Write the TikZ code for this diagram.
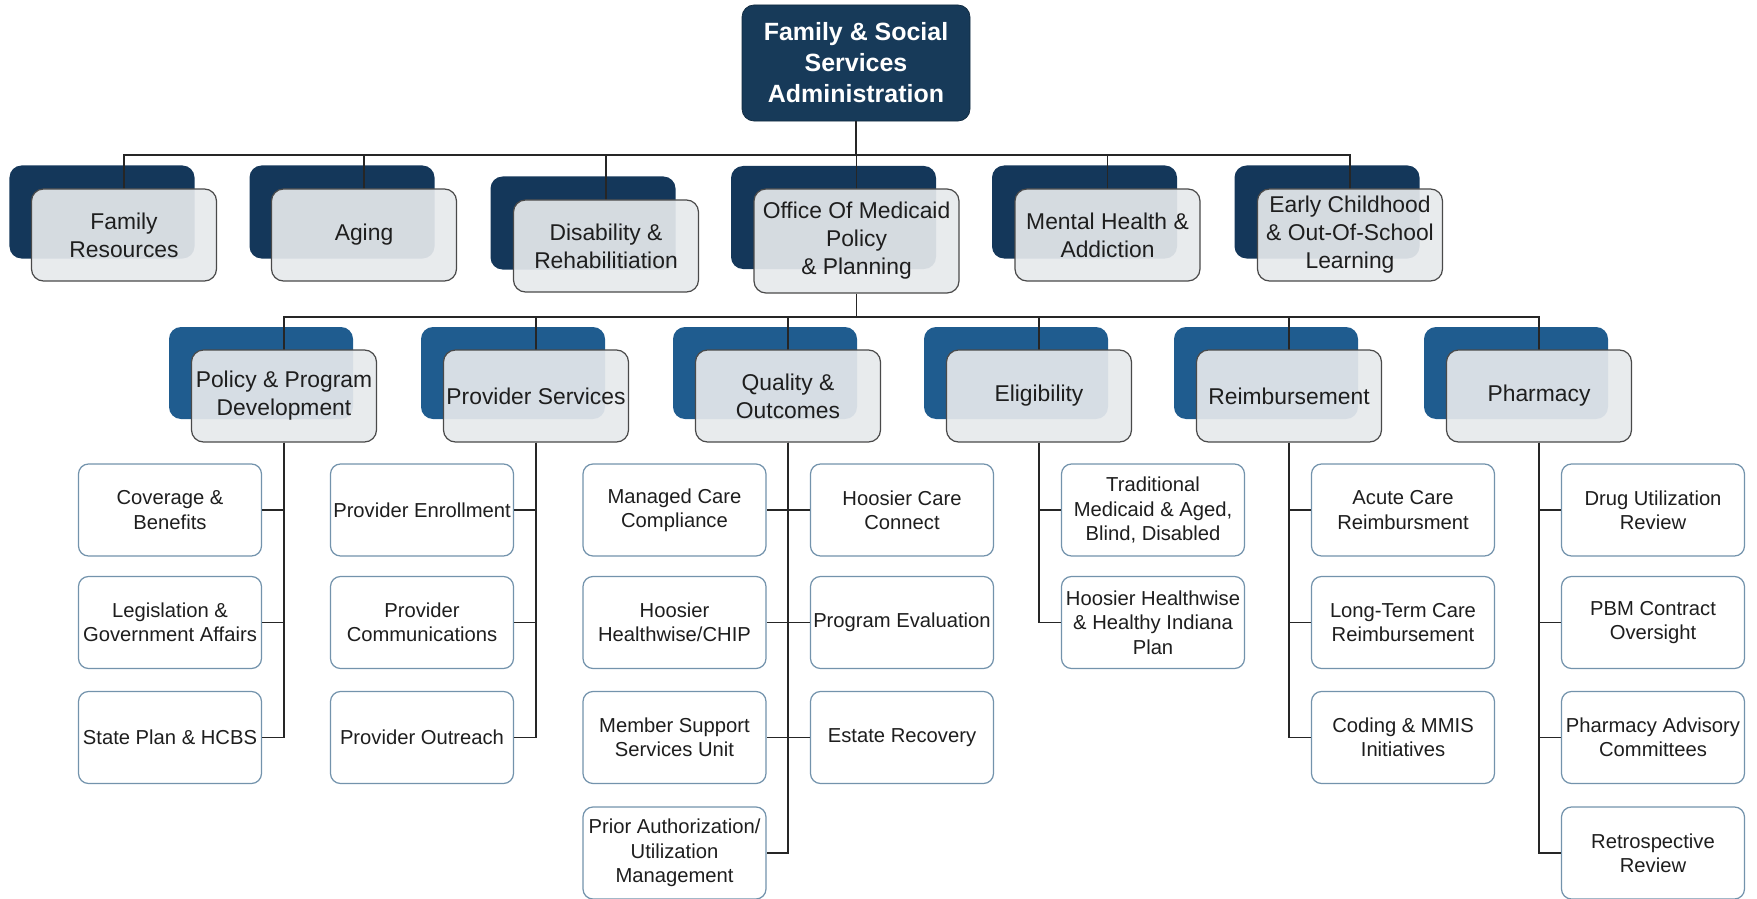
\documentclass[tikz,border=0pt]{standalone}
\usepackage{fontspec}
\setmainfont{Liberation Sans}
\usepackage{tikz,color}
\definecolor{headnavy}{HTML}{173A59}
\definecolor{navyback}{HTML}{14375A}
\definecolor{blueback}{HTML}{1F5C8F}
\definecolor{frontgrey}{HTML}{E6E9EC}
\definecolor{frontline}{HTML}{4A4A4A}
\definecolor{unitline}{HTML}{7393AC}
\definecolor{labelgrey}{HTML}{1E1E1E}

\begin{document}
\begin{tikzpicture}[x=0.2mm,y=-0.2mm,
  head/.style={draw=headnavy!70!black, fill=headnavy, rounded corners=2.4mm, text=white,
    align=center, inner sep=1pt, minimum width=45.6mm, minimum height=23.2mm,
    font=\fontsize{14.2}{17.6}\selectfont\bfseries},
  darkback/.style={fill=navyback, rounded corners=2.4mm, minimum width=37mm, minimum height=18.6mm},
  lightback/.style={fill=blueback, rounded corners=2.4mm, minimum width=36.8mm, minimum height=18.4mm},
  front/.style={draw=frontline, line width=0.7pt, fill=frontgrey, fill opacity=0.92, text opacity=1,
    text=labelgrey, rounded corners=2.4mm, align=center, inner sep=1pt,
    minimum width=37mm, minimum height=18.4mm, font=\fontsize{13}{15.9}\selectfont},
  unit/.style={draw=unitline, line width=0.7pt, fill=white, text=labelgrey, rounded corners=2mm,
    align=center, inner sep=1pt, minimum width=36.6mm, minimum height=18.4mm,
    font=\fontsize{11.5}{13.9}\selectfont},
  link/.style={draw=black!85, line width=0.8pt}]
\useasboundingbox (0,0) rectangle (1757,899);

\node[head] (fssa) at (856,63) {Family \& Social\\Services\\Administration};

% divisions
\node[darkback] (famb) at (102,212) {};
\node[darkback] (agingb) at (342,212) {};
\node[darkback] (disb) at (583,223) {};
\node[darkback, minimum width=41mm, minimum height=20.6mm] (ompb) at (833.5,217.5) {};
\node[darkback] (mhb) at (1084.5,212) {};
\node[darkback] (ecb) at (1327,212) {};

\coordinate (bus1) at (856,155);
\draw[link] (fssa.south) -- (bus1);
\foreach \n/\x/\y in {fam/124/189, aging/364/189, dis/606/200, omp/856.5/189, mh/1107.5/189, ec/1350/189}
  \draw[link] (bus1) -| (\x,\y);

\node[front] (fam) at (124,235) {Family\\Resources};
\node[front] (aging) at (364,235) {Aging};
\node[front] (dis) at (606,246) {Disability \&\\Rehabilitiation};
\node[front, minimum width=41mm, minimum height=20.8mm] (omp) at (856.5,241) {Office Of Medicaid\\Policy\\\& Planning};
\node[front] (mh) at (1107.5,235) {Mental Health \&\\Addiction};
\node[front] (ec) at (1350,235) {Early Childhood\\\& Out-Of-School\\Learning};

% offices under medicaid
\node[lightback] (ppdb) at (261,373) {};
\node[lightback] (provb) at (513,373) {};
\node[lightback] (qualb) at (765,373) {};
\node[lightback] (eligb) at (1016,373) {};
\node[lightback] (reimbb) at (1266,373) {};
\node[lightback] (pharmb) at (1516,373) {};

\coordinate (bus2) at (856.5,317);
\draw[link] (omp.south) -- (bus2);
\foreach \x in {284,536,788,1039,1289,1539}
  \draw[link] (bus2) -| (\x,350);

\node[front] (ppd) at (284,396) {Policy \& Program\\Development};
\node[front] (prov) at (536,396) {Provider Services};
\node[front] (qual) at (788,396) {Quality \&\\Outcomes};
\node[front] (elig) at (1039,396) {Eligibility};
\node[front] (reimb) at (1289,396) {Reimbursement};
\node[front] (pharm) at (1539,396) {Pharmacy};

% units
\node[unit] (cov) at (170,510) {Coverage \&\\Benefits};
\node[unit] (leg) at (170,622.5) {Legislation \&\\Government Affairs};
\node[unit] (spa) at (170,737.5) {State Plan \& HCBS};

\node[unit] (penr) at (422,510) {Provider Enrollment};
\node[unit] (pcom) at (422,622.5) {Provider\\Communications};
\node[unit] (pout) at (422,737.5) {Provider Outreach};

\node[unit] (mcc) at (674.5,510) {Managed Care\\Compliance};
\node[unit] (hhc) at (674.5,622.5) {Hoosier\\Healthwise/CHIP};
\node[unit] (mss) at (674.5,737.5) {Member Support\\Services Unit};
\node[unit] (pau) at (674.5,853) {Prior Authorization/\\Utilization\\Management};
\node[unit] (hcc) at (902,510) {Hoosier Care\\Connect};
\node[unit] (peval) at (902,622.5) {Program Evaluation};
\node[unit] (est) at (902,737.5) {Estate Recovery};

\node[unit] (trad) at (1153,510) {Traditional\\Medicaid \& Aged,\\Blind, Disabled};
\node[unit] (hhip) at (1153,622.5) {Hoosier Healthwise\\\& Healthy Indiana\\Plan};

\node[unit] (acr) at (1403,510) {Acute Care\\Reimbursment};
\node[unit] (ltc) at (1403,622.5) {Long-Term Care\\Reimbursement};
\node[unit] (cmi) at (1403,737.5) {Coding \& MMIS\\Initiatives};

\node[unit] (dur) at (1653,510) {Drug Utilization\\Review};
\node[unit] (pbm) at (1653,622.5) {PBM Contract\\Oversight};
\node[unit] (pac) at (1653,737.5) {Pharmacy Advisory\\Committees};
\node[unit] (rr) at (1653,853) {Retrospective\\Review};

\foreach \u in {cov,leg,spa} \draw[link] (ppd.south) |- (\u.east);
\foreach \u in {penr,pcom,pout} \draw[link] (prov.south) |- (\u.east);
\foreach \u in {mcc,hhc,mss,pau} \draw[link] (qual.south) |- (\u.east);
\foreach \u in {hcc,peval,est} \draw[link] (qual.south) |- (\u.west);
\foreach \u in {trad,hhip} \draw[link] (elig.south) |- (\u.west);
\foreach \u in {acr,ltc,cmi} \draw[link] (reimb.south) |- (\u.west);
\foreach \u in {dur,pbm,pac,rr} \draw[link] (pharm.south) |- (\u.west);

\end{tikzpicture}
\end{document}
